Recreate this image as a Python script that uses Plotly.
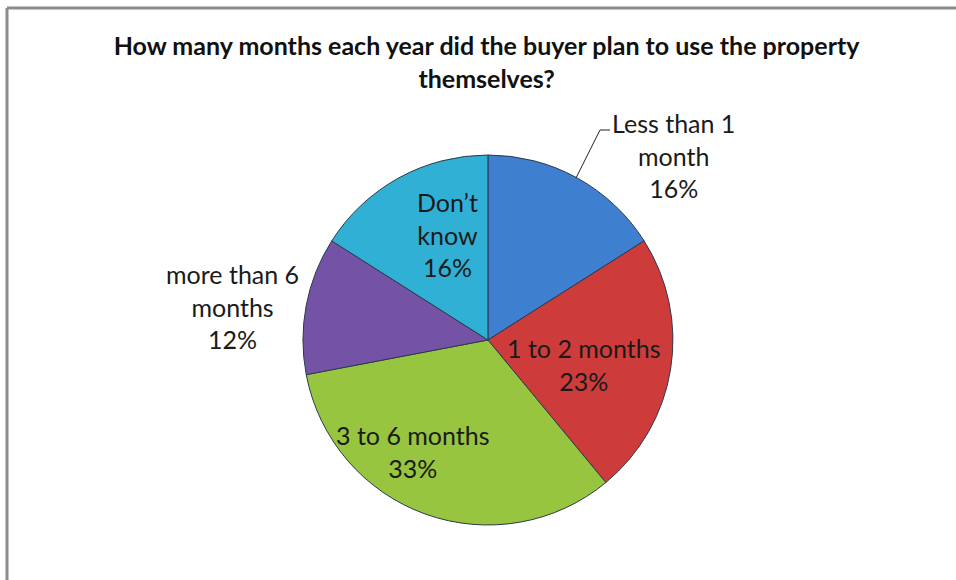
import plotly.graph_objects as go

# survey answers, clockwise from 12 o'clock
labels = ["Less than 1 month", "1 to 2 months", "3 to 6 months", "more than 6 months", "Don’t know"]
text_labels = ["Less than 1<br>month", "1 to 2 months", "3 to 6 months", "more than 6<br>months", "Don’t<br>know"]
shares = [16, 23, 33, 12, 16]
colors = ["#3F7FCF", "#CD3C3B", "#97C53F", "#7452A6", "#31B0D6"]

FONT = "Lato"
LABEL_SIZE = 25
# where Excel put each data label (pixel centre)
label_pos = [(673, 155), (584, 364), (413, 451), (232, 306), (447, 234)]

total = sum(shares)
pct = [round(100 * v / total) for v in shares]

fig = go.Figure()
fig.add_trace(go.Pie(
    labels=labels,
    values=shares,
    sort=False,
    direction="clockwise",
    rotation=0,
    marker=dict(colors=colors, line=dict(color="#2b3a4a", width=1)),
    textinfo="none",
    hoverinfo="label+percent",
    showlegend=False,
    domain=dict(x=[0.3169, 0.7039], y=[0.0948, 0.7328]),
))

# data labels
for txt, p, (lx, ly) in zip(text_labels, pct, label_pos):
    fig.add_annotation(text=txt + "<br>" + str(p) + "%", x=lx, y=ly,
                       xref="x", yref="y", showarrow=False,
                       font=dict(family=FONT, size=LABEL_SIZE, color="#1a1a1a"))
# leader line for the first label
fig.add_shape(type="path", path="M 576 178 L 600 130 L 610 130",
              xref="x", yref="y", line=dict(color="#222222", width=1))

# chart frame (top and left edges visible)
fig.add_shape(type="line", x0=7, y0=8, x1=956, y1=8, xref="x", yref="y",
              line=dict(color="#8c8c8c", width=3))
fig.add_shape(type="line", x0=7, y0=8, x1=7, y1=580, xref="x", yref="y",
              line=dict(color="#8c8c8c", width=3))

fig.update_xaxes(range=[0, 956], visible=False, fixedrange=True)
fig.update_yaxes(range=[580, 0], visible=False, fixedrange=True)

fig.update_layout(
    width=956, height=580,
    margin=dict(l=0, r=0, t=0, b=0),
    paper_bgcolor="white", plot_bgcolor="rgba(0,0,0,0)",
    title=dict(
        text="<b>How many months each year did the buyer plan to use the property<br>themselves?</b>",
        x=0.509, xanchor="center", y=1 - 55 / 580, yanchor="top",
        font=dict(family=FONT, size=25, color="#111111"),
    ),
)

# page body has a default 8px margin; drop it so the figure fills the window
fig.write_html("out.html", config={"displayModeBar": False},
               post_script="document.body.style.margin='0';")
